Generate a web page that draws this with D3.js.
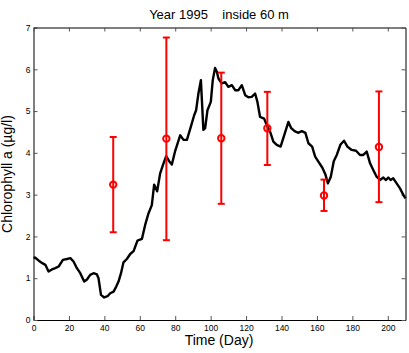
<!DOCTYPE html>
<html>
<head>
<meta charset="utf-8">
<script src="https://cdn.jsdelivr.net/npm/d3@7"></script>
<style>
  body { margin: 0; background: #fff; }
  text { font-family: "Liberation Sans", Arial, sans-serif; }
</style>
</head>
<body>
<svg id="chart" width="409" height="353"></svg>
<script>
// daily chlorophyll curve
const days = [0, 1, 3, 5, 6.7, 8.5, 10.4, 12.3, 14.2, 16.6, 18.9, 20.8, 22.6, 24.5, 26.4, 28.6, 30.2, 32, 33.9, 35.8,
  36.7, 38.1, 39.9, 41.8, 43.3, 45.2, 46.7, 48, 49.4, 50.8, 52.7, 54.6, 56.5, 58.7, 61.2, 63, 64.9, 66.8, 68.1, 69.8,
  71.5, 73.4, 74.9, 76.6, 78.1, 80, 82.8, 84.7, 86.6, 88.8, 90.7, 91.8, 93.1, 94.5, 95.9, 96.9, 98.2, 100.1, 101.2, 102.5,
  103.5, 104.4, 106.3, 108.2, 110, 112, 113.8, 115.7, 117.6, 119.5, 121.3, 123.2, 125.1, 126.4, 127.9, 130.2, 131.7, 133.6, 135.4, 137.3,
  139.5, 141.5, 143.9, 145.5, 147.4, 149.3, 151.5, 153.5, 155.2, 157.3, 159, 161, 163, 164.8, 166.2, 167.8, 169.5, 171.2, 173.3, 175.3,
  177.2, 179.6, 182.1, 184.3, 186.2, 188.1, 190, 191.8, 193.7, 195.6, 197.5, 199, 200.3, 201.6, 203.1, 205, 206.9, 208.8, 210];
const chl = [1.50, 1.49, 1.42, 1.36, 1.32, 1.16, 1.21, 1.24, 1.28, 1.44, 1.46, 1.48, 1.40, 1.24, 1.12, 0.92, 0.97, 1.08, 1.12, 1.09,
  1.00, 0.60, 0.54, 0.57, 0.64, 0.68, 0.80, 0.92, 1.12, 1.38, 1.46, 1.58, 1.65, 1.90, 1.94, 2.27, 2.55, 2.75, 3.24, 3.08,
  3.51, 3.75, 3.92, 3.80, 3.72, 4.05, 4.42, 4.31, 4.31, 4.62, 4.90, 5.02, 5.42, 5.74, 4.55, 4.59, 5.02, 5.22, 5.74, 6.03,
  5.94, 5.78, 5.66, 5.69, 5.58, 5.62, 5.50, 5.50, 5.62, 5.38, 5.33, 5.34, 5.42, 5.22, 4.86, 4.82, 4.66, 4.50, 4.27, 4.19,
  4.15, 4.42, 4.74, 4.59, 4.52, 4.48, 4.52, 4.48, 4.23, 4.15, 3.91, 3.78, 3.65, 3.48, 3.27, 3.42, 3.80, 3.95, 4.20, 4.29,
  4.15, 4.07, 4.05, 3.95, 3.95, 4.03, 3.75, 3.59, 3.43, 3.35, 3.41, 3.35, 3.41, 3.35, 3.39, 3.27, 3.15, 2.99, 2.91];

// sampled means with min / max
const sampleDays = [45, 75, 106, 132, 164, 195];
const sampleMean = [3.24, 4.34, 4.35, 4.59, 2.98, 4.14];
const sampleLow  = [2.10, 1.91, 2.78, 3.71, 2.61, 2.82];
const sampleHigh = [4.38, 6.76, 5.92, 5.46, 3.36, 5.47];

const xTicks = [0, 20, 40, 60, 80, 100, 120, 140, 160, 180, 200];
const yTicks = [0, 1, 2, 3, 4, 5, 6, 7];

const svg = d3.select("#chart");
const margin = {left: 33.5, right: 3.5, top: 27.5, bottom: 33};
const W = 409, H = 353;

const x = d3.scaleLinear().domain([0, 210]).range([margin.left, W - margin.right]);
const y = d3.scaleLinear().domain([0, 7]).range([H - margin.bottom, margin.top]);

// axes, matlab style box with inward ticks
const tickLen = 4;
svg.append("g")
  .attr("transform", `translate(0,${y(0)})`)
  .call(d3.axisBottom(x).tickValues(xTicks).tickSizeInner(-tickLen).tickSizeOuter(0).tickPadding(5).tickFormat(d3.format("d")))
  .call(g => g.selectAll("text").attr("font-size", 8.5));
svg.append("g")
  .attr("transform", `translate(${x(0)},0)`)
  .call(d3.axisLeft(y).tickValues(yTicks).tickSizeInner(-tickLen).tickSizeOuter(0).tickPadding(3).tickFormat(d3.format("d")))
  .call(g => g.selectAll("text").attr("font-size", 8.5));
svg.append("g")
  .attr("transform", `translate(0,${y(7)})`)
  .call(d3.axisTop(x).tickValues(xTicks).tickSizeInner(-tickLen).tickSizeOuter(0).tickFormat(""));
svg.append("g")
  .attr("transform", `translate(${x(210)},0)`)
  .call(d3.axisRight(y).tickValues(yTicks).tickSizeInner(-tickLen).tickSizeOuter(0).tickFormat(""));
svg.selectAll(".domain").attr("stroke", "#000");
svg.selectAll(".tick line").attr("stroke", "#555");

// curve
const line = d3.line()
  .x((d, i) => x(days[i]))
  .y(d => y(d));
svg.append("path")
  .datum(chl)
  .attr("d", line)
  .attr("fill", "none")
  .attr("stroke", "#000")
  .attr("stroke-width", 2.4)
  .attr("stroke-linejoin", "round");

// error bars
const bars = svg.append("g").attr("stroke", "#f00").attr("stroke-width", 2).attr("fill", "none");
const cap = 3.5;
sampleDays.forEach((d, i) => {
  bars.append("line").attr("x1", x(d)).attr("x2", x(d)).attr("y1", y(sampleLow[i])).attr("y2", y(sampleHigh[i]));
  bars.append("line").attr("x1", x(d) - cap).attr("x2", x(d) + cap).attr("y1", y(sampleLow[i])).attr("y2", y(sampleLow[i]));
  bars.append("line").attr("x1", x(d) - cap).attr("x2", x(d) + cap).attr("y1", y(sampleHigh[i])).attr("y2", y(sampleHigh[i]));
  bars.append("circle").attr("cx", x(d)).attr("cy", y(sampleMean[i])).attr("r", 3.2);
});

// labels
svg.append("text")
  .attr("x", 219).attr("y", 18.5)
  .attr("text-anchor", "middle")
  .attr("font-size", 13)
  .style("white-space", "pre")
  .text("Year 1995    inside 60 m");
svg.append("text")
  .attr("x", 219).attr("y", 345)
  .attr("text-anchor", "middle")
  .attr("font-size", 14)
  .text("Time (Day)");
svg.append("text")
  .attr("transform", `translate(12,174) rotate(-90)`)
  .attr("text-anchor", "middle")
  .attr("font-size", 14)
  .text("Chlorophyll a (µg/l)");
</script>
</body>
</html>
